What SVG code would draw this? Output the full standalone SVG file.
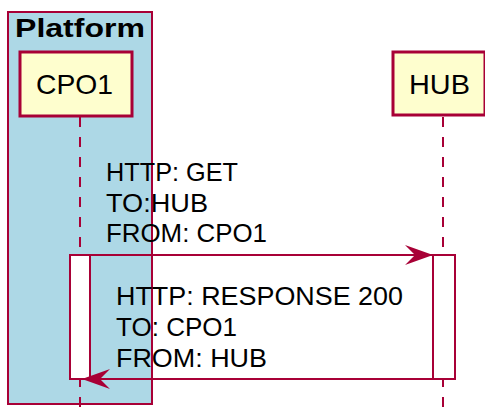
<svg xmlns="http://www.w3.org/2000/svg" width="485" height="412" viewBox="0 0 485 412">
<style>
.t{font-family:"Liberation Sans",Arial,sans-serif;fill:#000}
.m{font-size:26px}
.part{fill:#FEFECE;stroke:#A80036;stroke-width:3}
.life{stroke:#A80036;stroke-width:2;stroke-dasharray:10,10;fill:none}
.act{fill:#FFFFFF;stroke:#A80036;stroke-width:2}
.msg{stroke:#A80036;stroke-width:2;fill:none}
</style>
<defs>
<marker id="ah" markerWidth="30" markerHeight="22" refX="28" refY="11" orient="auto" markerUnits="userSpaceOnUse">
<path d="M0,1 L28,11 L0,21 L10,11 Z" fill="#A80036"/>
</marker>
</defs>
<g id="platform">
<rect x="8" y="12" width="144" height="392" fill="#ADD8E6" stroke="#A80036" stroke-width="2"/>
<text class="t" x="15" y="37" font-size="26" font-weight="bold" textLength="130" lengthAdjust="spacingAndGlyphs">Platform</text>
</g>
<g id="lifelines">
<line class="life" x1="80" y1="117" x2="80" y2="412"/>
<line class="life" x1="443" y1="117" x2="443" y2="412"/>
</g>
<g id="cpo1">
<rect class="part" x="20" y="52" width="112" height="64"/>
<text class="t" x="36" y="94" font-size="28" textLength="77" lengthAdjust="spacingAndGlyphs">CPO1</text>
</g>
<g id="hub">
<rect class="part" x="393" y="52" width="92" height="63"/>
<text class="t" x="409" y="94" font-size="28" textLength="61" lengthAdjust="spacingAndGlyphs">HUB</text>
</g>
<g id="activations">
<rect class="act" x="70" y="255" width="20" height="124"/>
<rect class="act" x="433" y="255" width="22" height="124"/>
</g>
<g id="connectors">
<line class="msg" x1="90" y1="255" x2="433" y2="255" marker-end="url(#ah)"/>
<line class="msg" x1="433" y1="379" x2="82" y2="379" marker-end="url(#ah)"/>
</g>
<g id="labels">
<text class="t m" x="106" y="181" textLength="132" lengthAdjust="spacingAndGlyphs">HTTP: GET</text>
<text class="t m" x="106" y="212" textLength="102" lengthAdjust="spacingAndGlyphs">TO:HUB</text>
<text class="t m" x="106" y="242" textLength="161" lengthAdjust="spacingAndGlyphs">FROM: CPO1</text>
<text class="t m" x="116" y="305" textLength="287" lengthAdjust="spacingAndGlyphs">HTTP: RESPONSE 200</text>
<text class="t m" x="116" y="336" textLength="121" lengthAdjust="spacingAndGlyphs">TO: CPO1</text>
<text class="t m" x="116" y="367" textLength="151" lengthAdjust="spacingAndGlyphs">FROM: HUB</text>
</g>
</svg>
